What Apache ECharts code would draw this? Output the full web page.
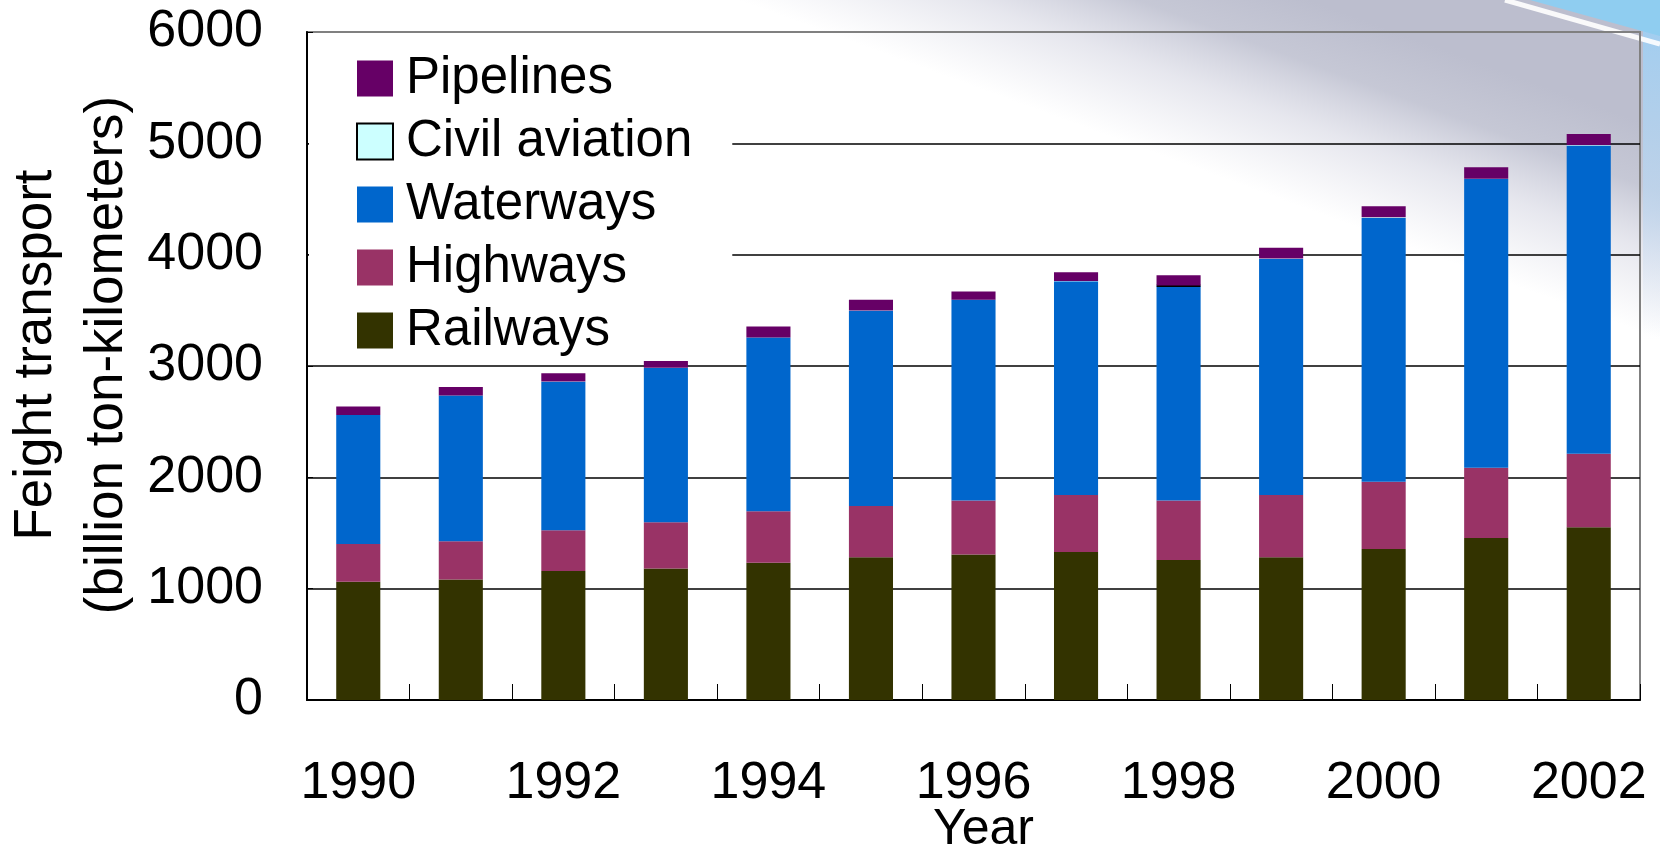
<!DOCTYPE html>
<html>
<head>
<meta charset="utf-8">
<script src="https://cdn.jsdelivr.net/npm/echarts@6/dist/echarts.min.js"></script>
<style>
  html, body { margin: 0; padding: 0; background: #ffffff; }
  #chart { width: 1660px; height: 852px; }
</style>
</head>
<body>
<div id="chart"></div>
<script>
// Freight turnover by mode of transport, billion ton-kilometers
const years = ['1990', '1991', '1992', '1993', '1994', '1995', '1996',
               '1997', '1998', '1999', '2000', '2001', '2002'];
const railways      = [1062, 1082, 1159, 1182, 1233, 1283, 1306, 1330, 1257, 1283, 1357, 1454, 1551];
const highways      = [339, 343, 366, 414, 463, 460, 487, 511, 536, 558, 604, 631, 661];
const waterways     = [1158, 1310, 1334, 1387, 1559, 1753, 1801, 1920, 1927, 2120, 2369, 2594, 2768];
const civilAviation = [1, 1, 1, 2, 2, 2, 2, 3, 3, 4, 5, 4, 5];
const pipelines     = [76, 76, 76, 80, 97, 98, 74, 78, 91, 98, 100, 102, 99];
const yTicks = { min: 0, max: 6000, step: 1000 };

const FONT = '"Liberation Sans", Arial, sans-serif';
const colors = {
  Railways: '#333300',
  Highways: '#993366',
  Waterways: '#0066CC',
  'Civil aviation': '#CCFFFF',
  Pipelines: '#660066'
};

function barSeries(name, values) {
  return {
    name: name,
    type: 'bar',
    stack: 'total',
    barWidth: '43%',
    data: values,
    itemStyle: { color: colors[name] },
    emphasis: { disabled: true }
  };
}

// the 1998 civil aviation segment shows its black outline
const aviationData = civilAviation.map((v, i) =>
  years[i] === '1998' ? { value: v, itemStyle: { borderColor: '#000', borderWidth: 2.5 } } : v);

const chart = echarts.init(document.getElementById('chart'), null, { renderer: 'canvas' });

chart.setOption({
  animation: false,
  backgroundColor: '#ffffff',
  textStyle: { fontFamily: FONT },
  graphic: [
    // soft grey sweep in the upper right corner
    {
      type: 'polygon', z: -10, silent: true,
      shape: { points: [[700, 0], [1660, 0], [1660, 700]] },
      style: {
        fill: new echarts.graphic.LinearGradient(1331, 218, 1399, 33, [
          { offset: 0, color: 'rgba(215,216,228,0)' },
          { offset: 0.4, color: 'rgba(210,211,224,0.55)' },
          { offset: 0.7, color: 'rgba(196,198,212,0.97)' },
          { offset: 1, color: 'rgba(188,190,206,1)' }
        ], true)
      }
    },
    // light blue strip down the right edge
    {
      type: 'rect', z: -9, silent: true,
      shape: { x: 1643, y: 20, width: 17, height: 320 },
      style: {
        fill: new echarts.graphic.LinearGradient(0, 0, 0, 1, [
          { offset: 0, color: 'rgba(160,205,240,1)' },
          { offset: 0.6, color: 'rgba(190,215,240,0.7)' },
          { offset: 1, color: 'rgba(220,230,245,0)' }
        ])
      }
    },
    // blue corner wedge
    {
      type: 'polygon', z: -8, silent: true,
      shape: { points: [[1530, 0], [1660, 0], [1660, 36]] },
      style: { fill: '#8fcdf0' }
    },
    // white streak under the blue wedge
    {
      type: 'line', z: -7, silent: true,
      shape: { x1: 1505, y1: 0, x2: 1660, y2: 44 },
      style: { stroke: 'rgba(255,255,255,0.9)', lineWidth: 5 }
    }
  ],
  grid: {
    left: 307, right: 20, top: 32, bottom: 152,
    outerBoundsMode: 'none',
    containLabel: false,
    show: true,
    borderColor: '#808080',
    borderWidth: 2,
    backgroundColor: 'transparent'
  },
  legend: {
    orient: 'vertical',
    left: 309,
    top: 34,
    padding: [19, 40, 5, 47],
    backgroundColor: '#ffffff',
    icon: 'rect',
    itemWidth: 36,
    itemHeight: 36,
    itemGap: 12,
    selectedMode: false,
    textStyle: { fontSize: 51, lineHeight: 51, color: '#000', fontFamily: FONT, padding: [0, 0, 0, 8] },
    data: [
      { name: 'Pipelines' },
      { name: 'Civil aviation', itemStyle: { borderColor: '#000', borderWidth: 2 } },
      { name: 'Waterways' },
      { name: 'Highways' },
      { name: 'Railways' }
    ]
  },
  xAxis: {
    type: 'category',
    data: years,
    boundaryGap: true,
    axisLine: { show: true, lineStyle: { color: '#000', width: 2 } },
    axisTick: { show: true, inside: true, length: 16, interval: 0, lineStyle: { color: '#000', width: 1 } },
    axisLabel: { interval: 1, fontSize: 52, margin: 58, color: '#000', fontFamily: FONT },
    splitLine: { show: false },
    name: 'Year',
    nameLocation: 'middle',
    nameGap: 105,
    nameMoveOverlap: false,
    nameTextStyle: { fontSize: 50, color: '#000', fontFamily: FONT, padding: [0, 0, 0, 20] }
  },
  yAxis: {
    type: 'value',
    min: yTicks.min,
    max: yTicks.max,
    interval: yTicks.step,
    axisLine: { show: true, lineStyle: { color: '#000', width: 2 } },
    axisTick: { show: true, inside: true, length: 6, lineStyle: { color: '#000' } },
    axisLabel: {
      fontSize: 52, margin: 44, color: '#000', fontFamily: FONT,
      formatter: (v) => String(v)
    },
    splitLine: {
      show: true,
      lineStyle: { color: ['#000', '#000', '#000', '#000', '#000', '#000', '#808080'], width: 1.5 }
    },
    name: 'Feight transport\n(billion ton-kilometers)',
    nameLocation: 'middle',
    nameRotate: 90,
    nameGap: 164,
    nameMoveOverlap: false,
    nameTextStyle: { fontSize: 53, lineHeight: 71, color: '#000', fontFamily: FONT, padding: [0, 0, 0, 22] }
  },
  series: [
    barSeries('Railways', railways),
    barSeries('Highways', highways),
    barSeries('Waterways', waterways),
    barSeries('Civil aviation', aviationData),
    barSeries('Pipelines', pipelines)
  ]
});
</script>
</body>
</html>
